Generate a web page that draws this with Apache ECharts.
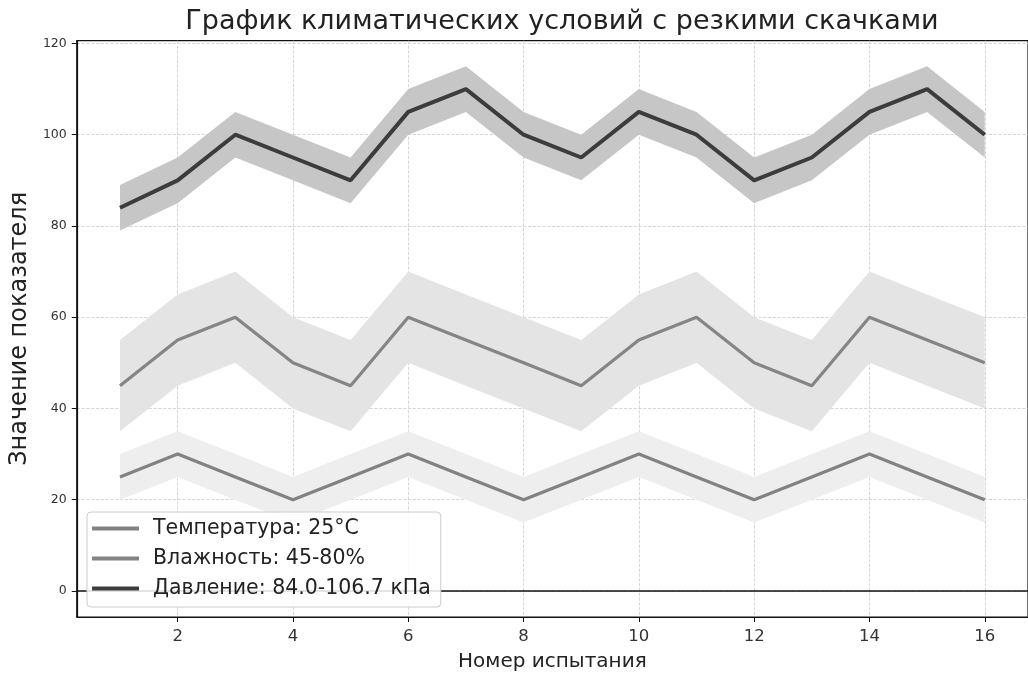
<!DOCTYPE html>
<html><head><meta charset="utf-8">
<script src="https://cdn.jsdelivr.net/npm/echarts@6/dist/echarts.min.js"></script>
<style>html,body{margin:0;padding:0;background:#fff}#c{width:1028px;height:677px}</style>
</head><body><div id="c"></div>
<script>
const trials = [1,2,3,4,5,6,7,8,9,10,11,12,13,14,15,16];
const tempVals = [25,30,25,20,25,30,25,20,25,30,25,20,25,30,25,20];
const humVals  = [45,55,60,50,45,60,55,50,45,55,60,50,45,60,55,50];
const presVals = [84,90,100,95,90,105,110,100,95,105,100,90,95,105,110,100];
const tempSpread = 5, humSpread = 10, presSpread = 5;
const xTicks = [2,4,6,8,10,12,14,16];
const yTicks = [0,20,40,60,80,100,120];
const names = ['Температура: 25°C','Влажность: 45-80%','Давление: 84.0-106.7 кПа'];
const title = 'График климатических условий с резкими скачками';

const FONT = 'DejaVu Sans';
function band(vals, spread, color){
  return {type:'custom', silent:true, z:1, clip:true,
    data: trials.map((x,i)=>[x, vals[i]-spread, vals[i]+spread]),
    encode:{x:0, y:[1,2]},
    renderItem:(params, api)=>{
      if(params.dataIndex!==0) return null;
      const upper = trials.map((x,i)=>api.coord([x, vals[i]+spread]));
      const lower = trials.map((x,i)=>api.coord([x, vals[i]-spread])).reverse();
      return {type:'polygon', shape:{points: upper.concat(lower)}, style:{fill:color}};
    }};
}
function line(name, vals, color, w){
  return {type:'line', name:name, symbol:'none', z:3, color:color,
    lineStyle:{color:color, width:w}, data: trials.map((x,i)=>[x, vals[i]])};
}
const chart = echarts.init(document.getElementById('c'));
chart.setOption({
  backgroundColor:'#fff',
  animation:false,
  title:{text:title, left:557, textAlign:'center', top:3,
    textStyle:{fontFamily:FONT, fontSize:27, fontWeight:'normal', color:'#222'}},
  grid:{left:75.7, top:40.7, width:960, height:577, show:true, borderColor:'#111', borderWidth:1.2, containLabel:false},
  legend:{show:true, data:names, orient:'vertical', left:87, top:512, itemGap:9,
    itemWidth:47, itemHeight:4, icon:'rect',
    backgroundColor:'rgba(255,255,255,0.85)', borderColor:'#ccc', borderWidth:1, borderRadius:4,
    padding:[6,10,8,5],
    textStyle:{fontFamily:FONT, fontSize:20.5, color:'#222', padding:[0,0,0,9]}},
  xAxis:{type:'value', min:0.25, max:16.75,
    name:'Номер испытания', nameLocation:'middle', nameGap:35,
    nameTextStyle:{fontFamily:FONT, fontSize:20, color:'#222'},
    axisLine:{show:true, onZero:false, lineStyle:{color:'#111', width:1.2}},
    axisTick:{show:true, length:5, customValues:xTicks, lineStyle:{color:'#111'}},
    axisLabel:{customValues:xTicks, fontFamily:FONT, fontSize:16.5, color:'#333', margin:11},
    splitLine:{show:true, lineStyle:{color:'#ccc', type:'dashed', width:0.8}}},
  yAxis:{type:'value', min:-5.7, max:120.6,
    name:'Значение показателя', nameLocation:'middle', nameGap:41, nameRotate:90,
    nameTextStyle:{fontFamily:FONT, fontSize:24, color:'#222'},
    axisLine:{show:true, onZero:false, lineStyle:{color:'#111', width:1.2}},
    axisTick:{show:true, length:5, customValues:yTicks, lineStyle:{color:'#111'}},
    axisLabel:{customValues:yTicks, fontFamily:FONT, fontSize:12.5, color:'#333', margin:10},
    splitLine:{show:true, lineStyle:{color:'#ccc', type:'dashed', width:0.8}}},
  series:[
    band(tempVals, tempSpread, '#eeeeee'),
    band(humVals, humSpread, '#e4e4e4'),
    band(presVals, presSpread, '#c6c6c6'),
    {type:'line', name:'zero', symbol:'none', silent:true, z:2,
     lineStyle:{color:'#111', width:1.5}, data:[[0.25,0],[16.75,0]]},
    line(names[0], tempVals, '#828282', 3.2),
    line(names[1], humVals, '#858585', 3.2),
    line(names[2], presVals, '#3c3c3c', 4)
  ]
});
</script></body></html>
